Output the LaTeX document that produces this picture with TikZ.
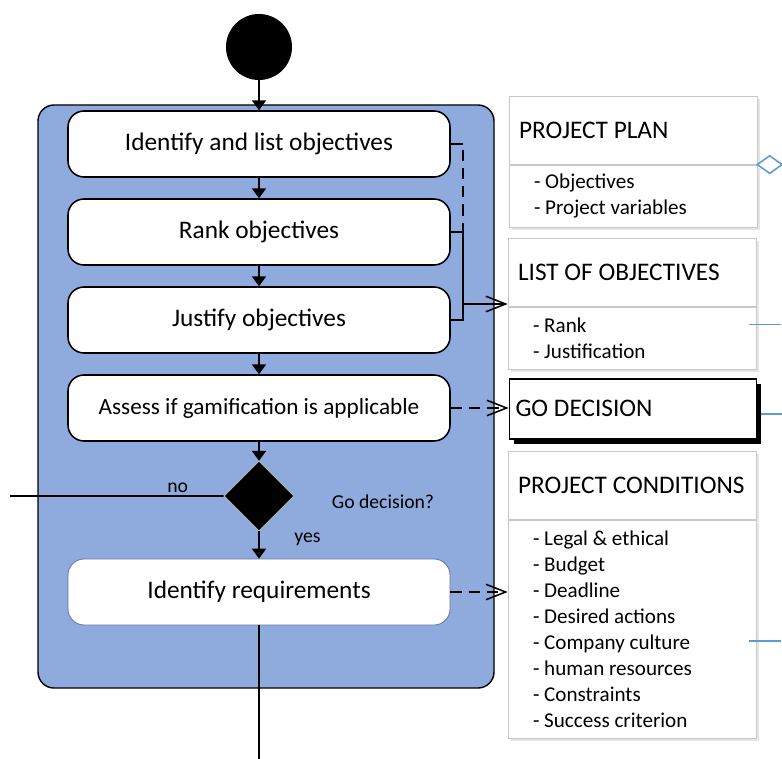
\documentclass[tikz,border=0pt]{standalone}
\usepackage{fontspec}
\setmainfont{Carlito}
\usetikzlibrary{shapes.geometric, arrows.meta, shadows}
\definecolor{lanefill}{HTML}{8FAADC}
\definecolor{boxgrey}{HTML}{C8C8C8}
\definecolor{linkblue}{HTML}{5B9BD5}
\definecolor{softedge}{HTML}{5A7AA8}
\tikzstyle{lane} = [rectangle, rounded corners=0.4cm, minimum width=11.4cm, minimum height=14.575cm, draw=black, line width=1pt, fill=lanefill]
\tikzstyle{activity} = [rectangle, rounded corners=0.4cm, minimum width=9.55cm, minimum height=1.65cm, text centered, draw=black, line width=1.1pt, fill=white, font=\fontsize{18}{22}\selectfont]
\tikzstyle{initial} = [circle, minimum size=1.65cm, inner sep=0pt, fill=black]
\tikzstyle{decision} = [diamond, aspect=1, minimum size=1.75cm, inner sep=0pt, fill=black, draw=gray!50]
\tikzstyle{objhead} = [rectangle, minimum height=1.7cm, text width=5.7cm, inner xsep=0.25cm, align=flush left, draw=boxgrey, fill=white, drop shadow={shadow xshift=0.07cm, shadow yshift=-0.07cm, fill=gray!20, opacity=1}, font=\fontsize{18}{22}\selectfont]
\tikzstyle{objbody} = [rectangle, text width=4.95cm, inner xsep=0.625cm, align=flush left, draw=boxgrey, fill=white, drop shadow={shadow xshift=0.07cm, shadow yshift=-0.07cm, fill=gray!20, opacity=1}, font=\fontsize{15}{18.5}\selectfont]
\tikzstyle{signal} = [rectangle, minimum height=1.5cm, text width=5.875cm, inner xsep=0.15cm, align=flush left, draw=black, line width=1.2pt, fill=white, drop shadow={shadow xshift=0.12cm, shadow yshift=-0.12cm, fill=black, opacity=1}, font=\fontsize{18}{22}\selectfont]
\tikzstyle{guard} = [font=\fontsize{14}{16}\selectfont]
\tikzstyle{arrow} = [line width=1.1pt,-{Triangle[length=7pt,width=10pt]}]
\tikzstyle{objflow} = [line width=1.1pt,-{Straight Barb[length=14pt,width=11pt]}]
\tikzstyle{dashflow} = [objflow, dash pattern=on 8pt off 5pt]
\tikzstyle{line} = [line width=1.1pt,-]
\tikzstyle{blueline} = [linkblue, line width=1.1pt,-]

\begin{document}
\begin{tikzpicture}[node distance=2.2cm]
  \useasboundingbox (0,0) rectangle (19.55,-18.975);
  \node (lane) [lane] at (6.65,-9.9125) {};
  \node (identify) [activity] at (6.475,-3.6) {Identify and list objectives};
  \node (start) [initial, above of=identify, yshift=0.225cm] {};
  \node (rank) [activity, below of=identify] {Rank objectives};
  \node (justify) [activity, below of=rank] {Justify objectives};
  \node (assess) [activity, below of=justify, font=\fontsize{16.5}{20}\selectfont] {Assess if gamification is applicable};
  \node (decide) [decision, below of=assess] {};
  \node (require) [activity, below of=decide, yshift=-0.2cm, draw=softedge, line width=0.6pt] {Identify requirements};
  \node (golabel) [guard] at (9.575,-12.55) {Go decision?};
  \coordinate (noend) at (0.25,-12.4);
  \coordinate (exit) at (6.475,-18.975);

  \node (plan) [objhead, anchor=north] at (15.825,-2.4) {PROJECT PLAN};
  \node (planitems) [objbody, anchor=north, minimum height=1.55cm] at (plan.south) {- Objectives\\- Project variables};
  \node (objlist) [objhead, anchor=north] at (15.8,-5.95) {LIST OF OBJECTIVES};
  \node (objitems) [objbody, anchor=north, minimum height=1.55cm] at (objlist.south) {- Rank\\- Justification};
  \node (godec) [signal, anchor=north] at (15.825,-9.45) {GO DECISION};
  \node (cond) [objhead, anchor=north] at (15.8,-11.275) {PROJECT CONDITIONS};
  \node (conditems) [objbody, anchor=north, minimum height=5.45cm] at (cond.south) {- Legal \& ethical\\- Budget\\- Deadline\\- Desired actions\\- Company culture\\- human resources\\- Constraints\\- Success criterion};
  \coordinate (join) at (11.55,-7.6);

  \draw [arrow] (start) -- (identify);
  \draw [arrow] (identify) -- (rank);
  \draw [arrow] (rank) -- (justify);
  \draw [arrow] (justify) -- (assess);
  \draw [arrow] (assess) -- (decide);
  \draw [arrow] (decide) -- node[guard, right=0.75cm, pos=0.3] {yes} (require);
  \draw [line] (decide.west) -- node[guard, above, pos=0.215, yshift=-0.05cm] {no} (noend);
  \draw [line] (require) -- (exit);

  \draw [line] (identify.east) -- ([xshift=0.3cm]identify.east);
  \draw [line, dash pattern=on 8pt off 5pt, dash phase=-4pt] ([xshift=0.3cm]identify.east) -- ([xshift=0.3cm]rank.east);
  \draw [line] (rank.east) -- ([xshift=0.3cm]rank.east) -- ([xshift=0.3cm]justify.east) -- (justify.east);
  \draw [objflow] (join) -- (join -| objlist.west);
  \draw [dashflow] (assess.east) -- (assess.east -| godec.west);
  \draw [dashflow] (require.east) -- (require.east -| conditems.west);

  \draw [blueline, fill=white] (plan.south east) -- ++(0.31,0.22) -- ++(0.31,-0.22) -- ++(-0.31,-0.22) -- cycle;
  \draw [blueline] ([yshift=0.33cm, xshift=-0.175cm]objitems.east) -- ++(0.8,0);
  \draw [blueline] ([yshift=-0.125cm, xshift=0.1cm]godec.east) -- ++(0.7,0);
  \draw [blueline] ([yshift=-0.3cm, xshift=-0.175cm]conditems.east) -- ++(0.8,0);
\end{tikzpicture}
\end{document}
